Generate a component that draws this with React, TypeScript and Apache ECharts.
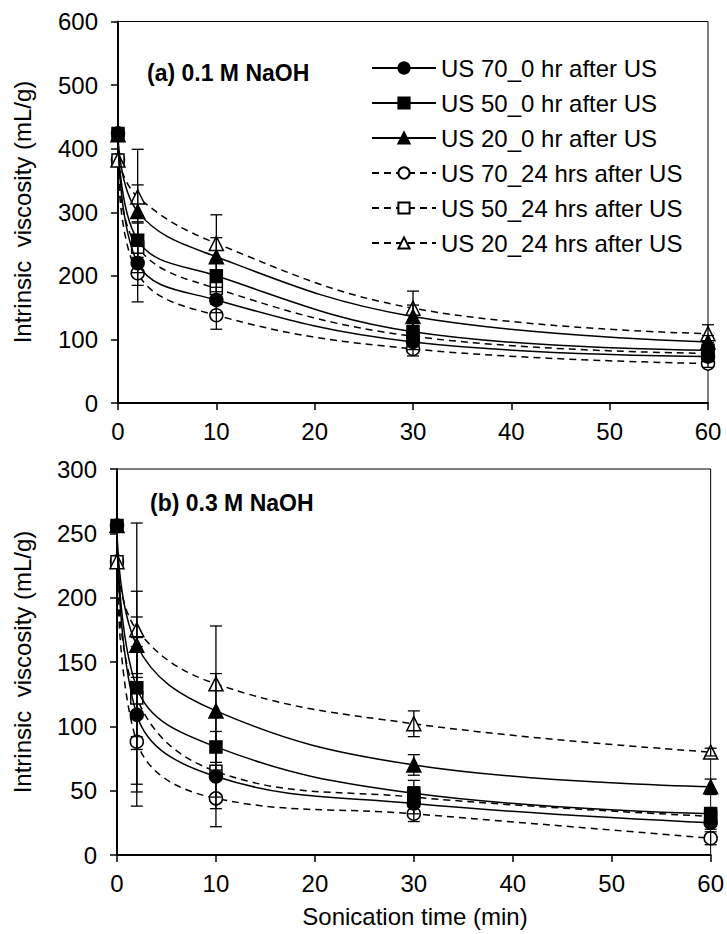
import React, { useEffect, useRef } from 'react';
import * as echarts from 'echarts';

const xValues = [0, 2, 10, 30, 60];
const seriesNames = [
  'US 70_0 hr after US',
  'US 50_0 hr after US',
  'US 20_0 hr after US',
  'US 70_24 hrs after US',
  'US 50_24 hrs after US',
  'US 20_24 hrs after US',
];
const xTickLabels = ['0', '10', '20', '30', '40', '50', '60'];
const panelTitles = ['(a) 0.1 M NaOH', '(b) 0.3 M NaOH'];

// Panel (a) 0.1 M NaOH
const a_us70_0 = [424, 220, 162, 96, 73];
const a_us50_0 = [424, 256, 200, 112, 83];
const a_us20_0 = [422, 301, 230, 136, 96];
const a_us70_24 = [382, 204, 138, 85, 62];
const a_us50_24 = [382, 245, 180, 105, 78];
const a_us20_24 = [382, 324, 251, 149, 109];
const a_err70_0 = [0, 35, 20, 12, 8];
const a_err50_0 = [0, 27, 25, 15, 8];
const a_err20_0 = [0, 42, 30, 18, 10];
const a_err70_24 = [0, 45, 22, 11, 6];
const a_err50_24 = [0, 40, 25, 14, 8];
const a_err20_24 = [0, 75, 45, 27, 14];

// Panel (b) 0.3 M NaOH
const b_us70_0 = [256, 109, 61, 40, 25];
const b_us50_0 = [256, 130, 84, 48, 32];
const b_us20_0 = [256, 163, 112, 70, 53];
const b_us70_24 = [228, 88, 44, 32, 13];
const b_us50_24 = [228, 122, 65, 45, 30];
const b_us20_24 = [228, 175, 133, 102, 80];
const b_err70_0 = [0, 60, 25, 8, 5];
const b_err50_0 = [0, 75, 12, 10, 5];
const b_err20_0 = [0, 22, 29, 8, 6];
const b_err70_24 = [0, 50, 22, 6, 5];
const b_err50_24 = [0, 40, 20, 8, 4];
const b_err20_24 = [0, 83, 45, 10, 3];

const FONT = '"Liberation Sans", Arial, sans-serif';

const symbols = ['circle', 'rect', 'triangle', 'circle', 'rect', 'triangle'];
const symbolSizes = [13, 12, 14, 13, 12, 14];

export default function App() {
  const ref = useRef<HTMLDivElement>(null);
  useEffect(() => {
    if (!ref.current) return;
    const chart = echarts.init(ref.current, null, { renderer: 'svg' });
    const panels = [
      {
        vals: [a_us70_0, a_us50_0, a_us20_0, a_us70_24, a_us50_24, a_us20_24],
        errs: [a_err70_0, a_err50_0, a_err20_0, a_err70_24, a_err50_24, a_err20_24],
      },
      {
        vals: [b_us70_0, b_us50_0, b_us20_0, b_us70_24, b_us50_24, b_us20_24],
        errs: [b_err70_0, b_err50_0, b_err20_0, b_err70_24, b_err50_24, b_err20_24],
      },
    ];
    const series: any[] = [];
    panels.forEach((p, pi) => {
      p.vals.forEach((vals, si) => {
        const filled = si < 3;
        series.push({
          type: 'line',
          name: seriesNames[si],
          xAxisIndex: pi,
          yAxisIndex: pi,
          data: xValues.map((x, i) => [x, vals[i]]),
          smooth: 0.4,
          clip: false,
          symbol: symbols[si],
          symbolSize: symbolSizes[si],
          showAllSymbol: true,
          lineStyle: { color: '#000', width: 1.5, type: filled ? 'solid' : [7, 5] },
          itemStyle: { color: filled ? '#000' : '#fff', borderColor: '#000', borderWidth: 1.5, opacity: 1 },
          z: filled ? 3 : 2,
        });
      });
      const errData: number[][] = [];
      p.vals.forEach((vals, si) => {
        vals.forEach((v, i) => {
          const e = p.errs[si][i];
          if (e > 0) errData.push([xValues[i], v - e, v + e]);
        });
      });
      series.push({
        type: 'custom',
        name: 'err' + pi,
        xAxisIndex: pi,
        yAxisIndex: pi,
        z: 5,
        clip: false,
        encode: { x: 0, y: [1, 2] },
        data: errData,
        renderItem: (params: any, api: any) => {
          const x = api.value(0);
          const lo = api.value(1);
          const hi = api.value(2);
          const p1 = api.coord([x, lo]);
          const p2 = api.coord([x, hi]);
          const w = 6;
          const style = { stroke: '#000', lineWidth: 1.3, fill: 'none' };
          return {
            type: 'group',
            children: [
              { type: 'line', shape: { x1: p1[0], y1: p1[1], x2: p2[0], y2: p2[1] }, style },
              { type: 'line', shape: { x1: p1[0] - w, y1: p1[1], x2: p1[0] + w, y2: p1[1] }, style },
              { type: 'line', shape: { x1: p2[0] - w, y1: p2[1], x2: p2[0] + w, y2: p2[1] }, style },
            ],
          };
        },
      });
    });

    const axisCommon = {
      axisLine: { show: true, onZero: false, lineStyle: { color: '#000', width: 2 } },
      axisTick: { show: true, inside: false, length: 7, lineStyle: { color: '#000', width: 1.5 } },
      splitLine: { show: false },
    };

    const option: any = {
      animation: false,
      backgroundColor: '#fff',
      textStyle: { fontFamily: FONT, color: '#000' },
      grid: [
        { left: 118, right: 19, top: 21.5, bottom: 934 - 403, show: true, borderColor: '#000', borderWidth: 1, backgroundColor: 'transparent' },
        { left: 117, right: 14, top: 469, bottom: 934 - 855, show: true, borderColor: '#000', borderWidth: 1, backgroundColor: 'transparent' },
      ],
      xAxis: [0, 1].map((i) => ({
        type: 'value',
        gridIndex: i,
        min: 0,
        max: 60,
        interval: 10,
        ...axisCommon,
        axisLabel: {
          fontSize: 24,
          color: '#000',
          margin: 16,
          fontFamily: FONT,
          formatter: (v: number) => xTickLabels[Math.round(v / 10)] ?? '',
        },
      })),
      yAxis: [
        { max: 600, interval: 100 },
        { max: 300, interval: 50 },
      ].map((c, i) => ({
        type: 'value',
        gridIndex: i,
        min: 0,
        max: c.max,
        interval: c.interval,
        ...axisCommon,
        axisLabel: { fontSize: 24, color: '#000', margin: 20, fontFamily: FONT },
      })),
      legend: {
        data: seriesNames,
        orient: 'vertical',
        left: 366,
        top: 51,
        itemWidth: 64,
        itemHeight: 14,
        itemGap: 11,
        textStyle: { fontSize: 24, color: '#000', fontFamily: FONT },
        selectedMode: false,
      },
      graphic: [
        {
          type: 'text', x: 147, y: 73,
          style: { text: panelTitles[0], font: `bold 23px ${FONT}`, fill: '#000', textAlign: 'left', textVerticalAlign: 'middle' },
        },
        {
          type: 'text', x: 150, y: 503,
          style: { text: panelTitles[1], font: `bold 23px ${FONT}`, fill: '#000', textAlign: 'left', textVerticalAlign: 'middle' },
        },
        {
          type: 'text', x: 22, y: 212, rotation: Math.PI / 2,
          style: { text: 'Intrinsic  viscosity (mL/g)', font: `24px ${FONT}`, fill: '#000', textAlign: 'center', textVerticalAlign: 'middle' },
        },
        {
          type: 'text', x: 22, y: 662, rotation: Math.PI / 2,
          style: { text: 'Intrinsic  viscosity (mL/g)', font: `24px ${FONT}`, fill: '#000', textAlign: 'center', textVerticalAlign: 'middle' },
        },
        {
          type: 'text', x: 415, y: 916,
          style: { text: 'Sonication time (min)', font: `24px ${FONT}`, fill: '#000', textAlign: 'center', textVerticalAlign: 'middle' },
        },
      ],
      series,
    };
    chart.setOption(option);
    return () => chart.dispose();
  }, []);
  return (
    <div
      ref={ref}
      style={{ position: 'absolute', left: 0, top: 0, width: 727, height: 934, background: '#fff' }}
    />
  );
}
